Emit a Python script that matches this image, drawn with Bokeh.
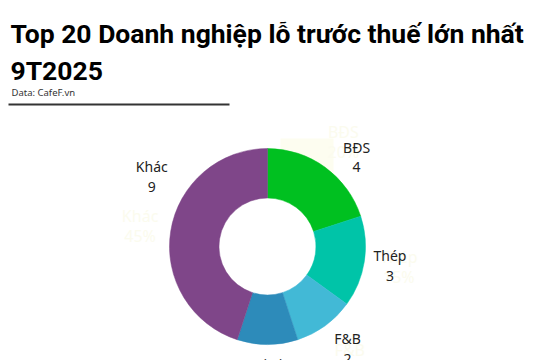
import numpy as np
from bokeh.plotting import figure
from bokeh.models import Range1d, ColumnDataSource
from bokeh.core.properties import value
from bokeh.embed import file_html
from bokeh.resources import INLINE

# ---- data ----
categories = ["BĐS", "Thép", "F&B", "Logistics", "Khác"]
counts = [4, 3, 2, 2, 9]
percents = ["20%", "15%", "10%", "10%", "45%"]
colors = ["#00c020", "#00c4a8", "#42b9d6", "#2d8bba", "#7f4689"]

title_lines = ["Top 20 Doanh nghiệp lỗ trước thuế lớn nhất", "9T2025"]
source_note = "Data: CafeF.vn"

# ---- layout (screen pixels) ----
W, H = 536, 360
def X(sx):
    return sx
def Y(sy):
    return H - sy

cx, cy = X(267), Y(246)
r_out, r_in = 98, 48.5
label_r = [126, 124, 130, 128, 135]
label_nudge_deg = [9, 0, -2, 0, 22]
ghost_r = [129, 133, 140, 140, 129]

p = figure(width=W, height=H, x_range=Range1d(0, W), y_range=Range1d(0, H),
           output_backend="svg", toolbar_location=None, min_border=0,
           x_axis_location=None, y_axis_location=None, outline_line_color=None)
p.grid.visible = False
p.background_fill_color = "white"
p.border_fill_color = "white"

# faint highlight box behind the first label area
p.quad(left=[X(280)], right=[X(333)], top=[Y(138)], bottom=[Y(176)],
       fill_color="#fdfdf0", line_color=None)

vals = np.array(counts, dtype=float)
frac = vals / vals.sum()
cum = np.concatenate([[0], np.cumsum(frac)])
start = np.pi / 2 - 2 * np.pi * cum[:-1]
end = np.pi / 2 - 2 * np.pi * cum[1:]
mid_clock = 2 * np.pi * (cum[:-1] + cum[1:]) / 2  # clockwise from top

src = ColumnDataSource(dict(x=[cx] * len(counts), y=[cy] * len(counts),
                            start=start, end=end, color=colors))
p.annular_wedge(x="x", y="y", inner_radius=r_in, outer_radius=r_out,
                start_angle="start", end_angle="end", direction="clock",
                fill_color="color", line_color="color", line_width=0.5, source=src)

# ghost labels (very pale)
gx, gy = [], []
for i, c in enumerate(categories):
    th = mid_clock[i]
    gx.append(cx + ghost_r[i] * np.sin(th))
    gy.append(cy + ghost_r[i] * np.cos(th))
gsrc = ColumnDataSource(dict(x=gx, y=gy, t1=categories, t2=percents))
for col, off in (("t1", -10), ("t2", 10)):
    p.text(x="x", y="y", text=col, source=gsrc, y_offset=off, text_align="center",
           text_baseline="middle", text_font=value("Noto Sans"), text_font_size="16px",
           text_color="#fbfbee")

# real labels
lx, ly = [], []
for i, c in enumerate(categories):
    th = mid_clock[i] + np.deg2rad(label_nudge_deg[i])
    lx.append(cx + label_r[i] * np.sin(th))
    ly.append(cy + label_r[i] * np.cos(th))
lsrc = ColumnDataSource(dict(x=lx, y=ly, t1=categories, t2=[str(v) for v in counts]))
for col, off in (("t1", -10), ("t2", 10)):
    p.text(x="x", y="y", text=col, source=lsrc, y_offset=off, text_align="center",
           text_baseline="middle", text_font=value("Noto Sans"), text_font_size="14px",
           text_color="#222222")

# title
p.text(x=[X(10), X(10)], y=[Y(33), Y(70)], text=title_lines, text_align="left",
       text_baseline="alphabetic", text_font=value("Roboto"), text_font_style="bold",
       text_font_size="26.5px", text_color="#000000")
p.text(x=[X(11)], y=[Y(92)], text=[source_note], text_align="left",
       text_baseline="alphabetic", text_font=value("Noto Sans"), text_font_size="9.5px",
       text_color="#333333")
p.segment(x0=[X(8)], y0=[Y(104)], x1=[X(229)], y1=[Y(104)], line_color="#333333",
          line_width=2)

open("out.html", "w").write(file_html(p, INLINE))
